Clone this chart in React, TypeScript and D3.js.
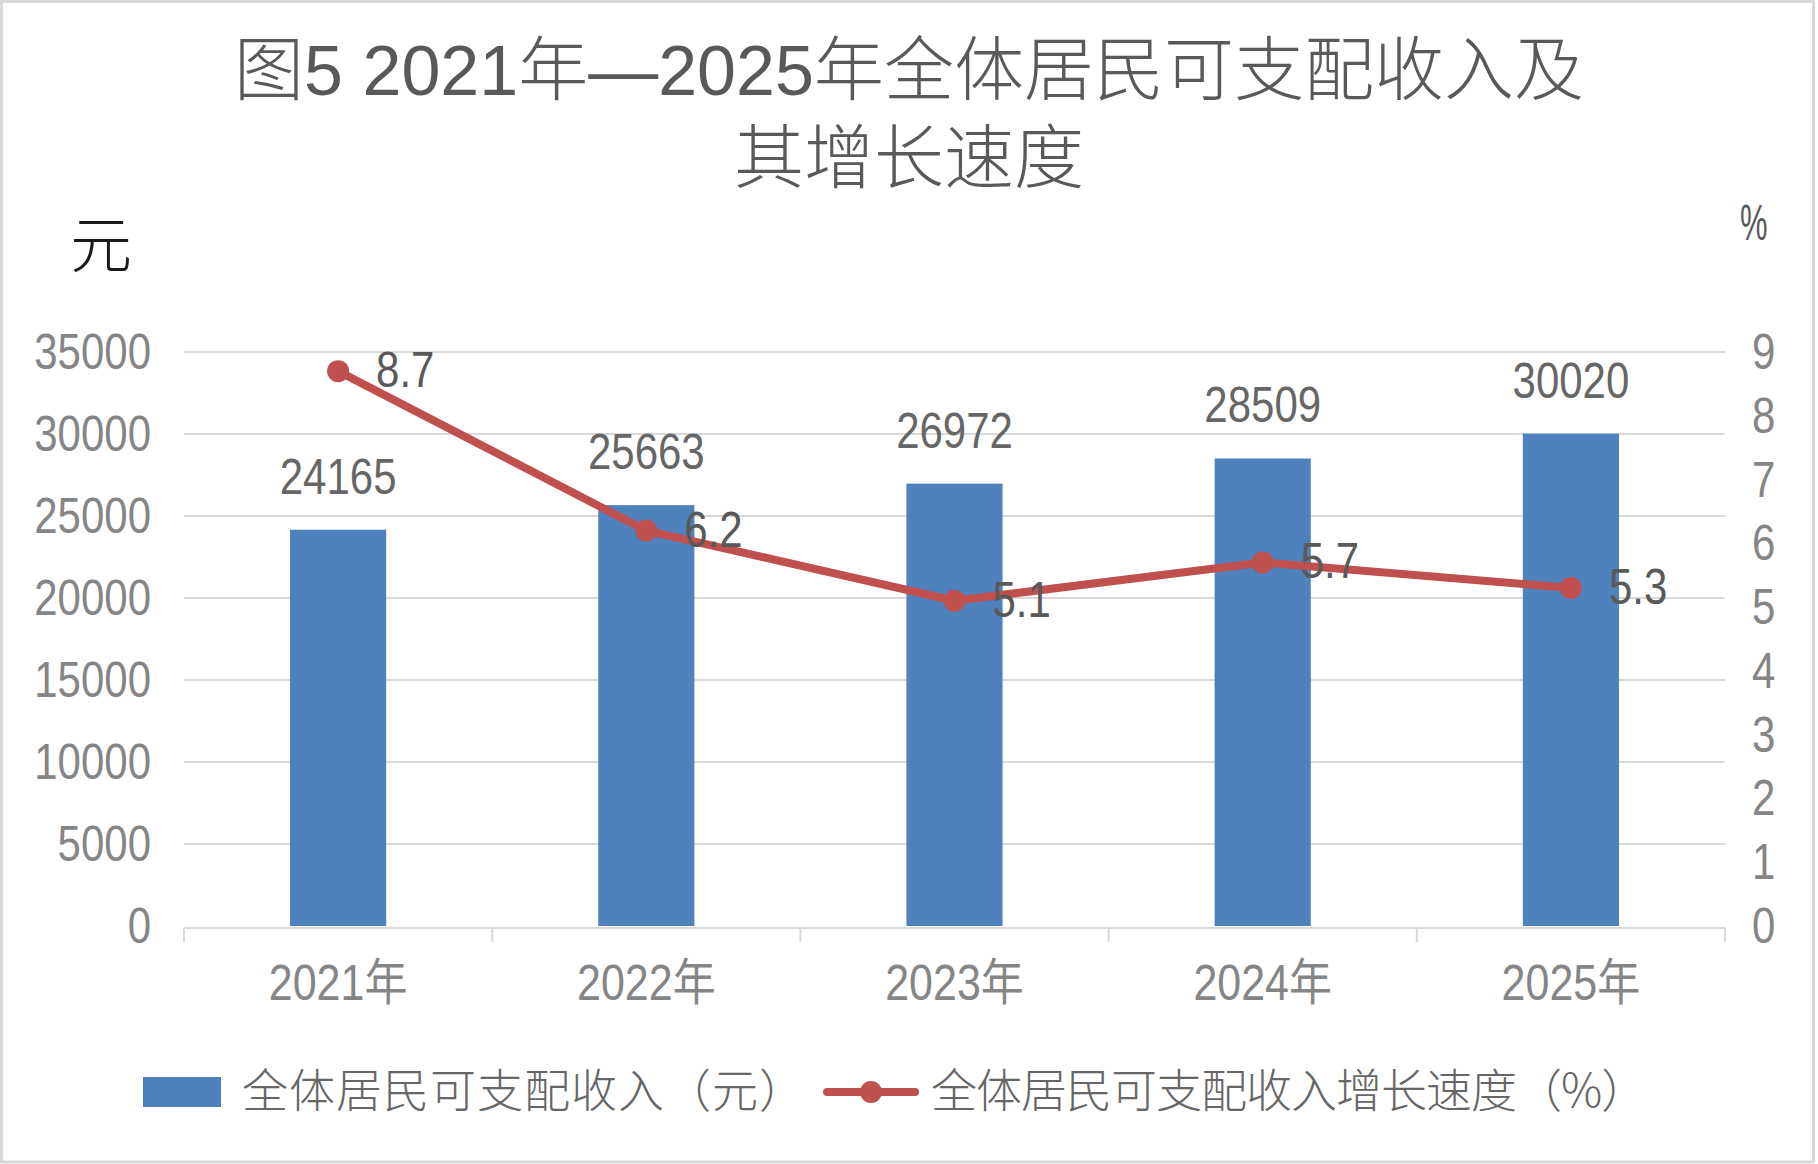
import * as d3 from 'd3';

// data
const years = ['2021年', '2022年', '2023年', '2024年', '2025年'];
const income = [24165, 25663, 26972, 28509, 30020];
const growth = [8.7, 6.2, 5.1, 5.7, 5.3];
const leftTicks = [0, 5000, 10000, 15000, 20000, 25000, 30000, 35000];
const rightTicks = [0, 1, 2, 3, 4, 5, 6, 7, 8, 9];
const titleLines = ['图5 2021年—2025年全体居民可支配收入及', '其增长速度'];
const legendLabels = ['全体居民可支配收入（元）', '全体居民可支配收入增长速度（%）'];

const W = 1818;
const H = 1164;
const FONT = '"Noto Sans CJK SC", "Noto Sans", sans-serif';
const NUM_FONT = '"Liberation Sans", "Noto Sans CJK SC", sans-serif';
const BAR = '#4F81BD';
const LINE = '#C0504D';
const GRID = '#d9d9d9';

const plot = { left: 184, right: 1725, top: 352, bottom: 926 };

const Txt = ({ x, y, s = 0.84, size = 50, anchor = 'middle', fill = '#858585', children }: any) => (
    <text
        transform={`translate(${x},${y}) scale(${s},1)`}
        textAnchor={anchor}
        fontSize={size}
        fill={fill}
        fontFamily={NUM_FONT}
    >
        {children}
    </text>
);

export default function App() {
    const x = d3.scaleBand().domain(years).range([plot.left, plot.right]).padding(0);
    const y = d3.scaleLinear().domain([0, 35000]).range([plot.bottom, plot.top]);
    const y2 = d3.scaleLinear().domain([0, 9]).range([plot.bottom, plot.top]);
    const barW = x.bandwidth() * 0.312;
    const cx = (d: string) => (x(d) as number) + x.bandwidth() / 2;

    const pts: [number, number][] = years.map((d, i) => [cx(d), y2(growth[i])]);
    const linePath = d3.line()(pts) as string;

    const ticksX = years.map((d) => x(d) as number).concat([plot.right]);

    return (
        <svg width={W} height={H} style={{ position: 'absolute', left: 0, top: 0, display: 'block', background: '#fff' }}>
            <rect x={1.5} y={1.5} width={W - 6} height={H - 3.5} fill="#fff" stroke={GRID} strokeWidth={3} />

            {/* title */}
            {titleLines.map((t, i) => (
                <text key={t} x={909} y={95 + i * 88} textAnchor="middle" fontSize={70} fontWeight={300} fill="#595959" fontFamily={NUM_FONT}>
                    {t}
                </text>
            ))}

            {/* axis units */}
            <text x={70} y={268} fontSize={62} fontWeight={300} fill="#1a1a1a" fontFamily={FONT}>元</text>
            <Txt x={1740} y={240} s={0.62} size={50} anchor="start" fill="#595959">%</Txt>

            {/* gridlines */}
            {leftTicks.filter((t) => t > 0).map((t) => (
                <line key={t} x1={plot.left} x2={plot.right} y1={y(t)} y2={y(t)} stroke={GRID} strokeWidth={2} />
            ))}

            {/* left axis labels */}
            {leftTicks.map((t) => (
                <Txt key={t} x={151} y={y(t) + 17} anchor="end">{t}</Txt>
            ))}

            {/* right axis labels */}
            {rightTicks.map((t) => (
                <Txt key={t} x={1752} y={y2(t) + 17} anchor="start">{t}</Txt>
            ))}

            {/* bars */}
            {years.map((d, i) => (
                <rect key={d} x={cx(d) - barW / 2} y={y(income[i])} width={barW} height={plot.bottom - y(income[i])} fill={BAR} />
            ))}

            {/* x axis */}
            <line x1={plot.left} x2={plot.right} y1={plot.bottom + 2} y2={plot.bottom + 2} stroke={GRID} strokeWidth={2} />
            {ticksX.map((t, i) => (
                <line key={i} x1={t} x2={t} y1={plot.bottom + 2} y2={plot.bottom + 16} stroke={GRID} strokeWidth={2} />
            ))}
            {years.map((d) => (
                <Txt key={d} x={cx(d)} y={1000} s={0.86}>{d}</Txt>
            ))}

            {/* bar labels */}
            {years.map((d, i) => (
                <Txt key={d} x={cx(d)} y={y(income[i]) - 36} fill="#666666">{income[i]}</Txt>
            ))}

            {/* growth line */}
            <path d={linePath} fill="none" stroke={LINE} strokeWidth={8} strokeLinejoin="round" />
            {pts.map((p, i) => (
                <circle key={i} cx={p[0]} cy={p[1]} r={11} fill={LINE} />
            ))}
            {pts.map((p, i) => (
                <Txt key={i} x={p[0] + 38} y={p[1] + 16} anchor="start" fill="#595959">{growth[i].toFixed(1)}</Txt>
            ))}

            {/* legend */}
            <rect x={143} y={1077} width={78} height={30} fill={BAR} />
            <text x={242} y={1107} fontSize={46} fontWeight={300} fill="#666666" fontFamily={FONT} letterSpacing={1}>{legendLabels[0]}</text>
            <line x1={827} x2={915} y1={1092} y2={1092} stroke={LINE} strokeWidth={8} strokeLinecap="round" />
            <circle cx={871} cy={1092} r={11} fill={LINE} />
            <text x={931} y={1107} fontSize={46} fontWeight={300} fill="#666666" fontFamily={FONT} letterSpacing={-1}>{legendLabels[1]}</text>
        </svg>
    );
}
